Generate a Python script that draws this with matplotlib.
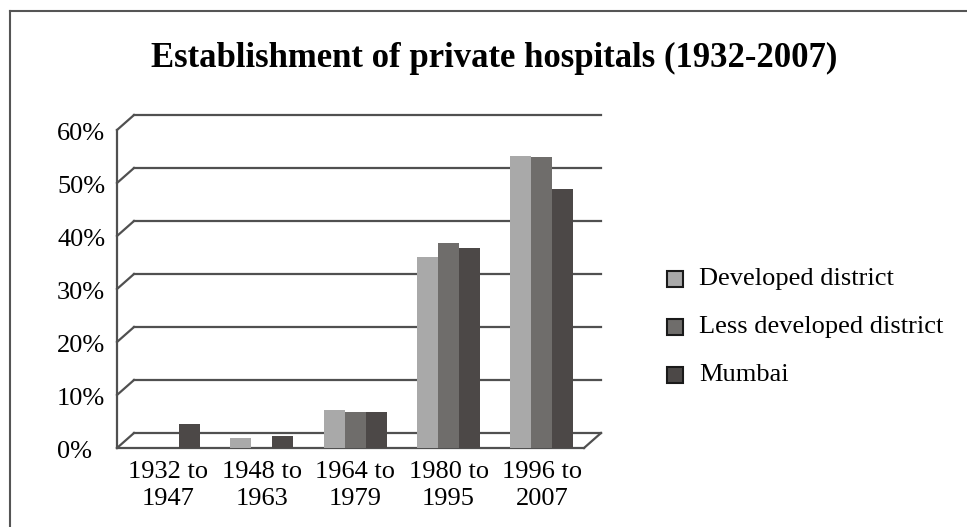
import matplotlib
matplotlib.use("Agg")
import matplotlib.pyplot as plt
import matplotlib.transforms as mtransforms
from matplotlib.lines import Line2D
from matplotlib.patches import Rectangle

# chart data (percent of hospitals established in each period)
periods = ["1932 to\n1947", "1948 to\n1963", "1964 to\n1979", "1980 to\n1995", "1996 to\n2007"]
developed = [0.0, 1.9, 7.2, 36.1, 55.1]
less_developed = [0.0, 0.0, 6.8, 38.7, 54.9]
mumbai = [4.5, 2.3, 6.8, 37.7, 48.9]
series_names = ["Developed district", "Less developed district", "Mumbai"]
y_ticks = [0, 10, 20, 30, 40, 50, 60]
y_tick_labels = ["0%", "10%", "20%", "30%", "40%", "50%", "60%"]

colors = ["#a9a9a9", "#6f6d6b", "#4c4847"]
line_col = "#505050"
W, H = 967, 527

plt.rcParams["font.family"] = ["Liberation Serif", "DejaVu Serif"]

fig = plt.figure(figsize=(W / 100, H / 100), dpi=100)
# front plane of the pseudo-3D plot: x 117..584 px, y 130..448 px
ax = fig.add_axes([117 / W, 1 - 448 / H, (584 - 117) / W, (448 - 130) / H])
x_lo, x_hi = -0.55, 4.45
ax.set_xlim(x_lo, x_hi)
ax.set_ylim(0, 60)
for s in ax.spines.values():
    s.set_visible(False)
ax.tick_params(left=False, bottom=False, labelleft=False)

# back wall offset (depth) in pixels
back = mtransforms.offset_copy(ax.transData, fig=fig, x=17, y=15, units="dots")

for v in y_ticks:
    # back wall gridline
    ax.add_line(Line2D([x_lo, x_hi], [v, v], transform=back, color=line_col,
                       lw=1.6, clip_on=False, zorder=1))
    # left wall diagonal from front axis to back wall
    p0 = ax.transData.transform((x_lo, v))
    p1 = back.transform((x_lo, v))
    ax.add_line(Line2D([p0[0], p1[0]], [p0[1], p1[1]], transform=None,
                       color=line_col, lw=1.6, clip_on=False, zorder=1))

# floor: front edge, right diagonal, front vertical axis
ax.plot([x_lo, x_hi], [0, 0], color=line_col, lw=1.6, clip_on=False, zorder=1)
q0 = ax.transData.transform((x_hi, 0))
q1 = back.transform((x_hi, 0))
ax.add_line(Line2D([q0[0], q1[0]], [q0[1], q1[1]], transform=None,
                   color=line_col, lw=1.6, clip_on=False, zorder=1))
ax.plot([x_lo, x_lo], [0, 60], color=line_col, lw=1.6, clip_on=False, zorder=1)

# bars
bw = 0.225
xs = list(range(len(periods)))
for k, vals in enumerate([developed, less_developed, mumbai]):
    ax.bar([x + (k - 1) * bw for x in xs], vals, width=bw, color=colors[k],
           zorder=3, clip_on=False)

# x labels
ax.set_xticks(xs)
ax.set_xticklabels(periods, fontsize=19, linespacing=1.3)
ax.tick_params(axis="x", pad=6)

# y labels, left aligned like the original
lab_tr = mtransforms.offset_copy(ax.transData, fig=fig, x=0, y=-4, units="dots")
for v, lab in zip(y_ticks, y_tick_labels):
    p = lab_tr.transform((x_lo, v))
    fig.text(57 / W, p[1] / H, lab, fontsize=19, ha="left", va="center")

# title
fig.text(494 / W, 1 - 58 / H, "Establishment of private hospitals (1932-2007)",
         fontsize=25, fontweight="bold", ha="center", va="center")

# legend
rows_y = [279, 327, 375]
for name, c, yy in zip(series_names, colors, rows_y):
    fig.patches.append(Rectangle((667 / W, 1 - (yy + 8) / H), 16 / W, 16 / H,
                                 transform=fig.transFigure, facecolor=c,
                                 edgecolor="#1a1a1a", lw=1.5))
    fig.text(699 / W, 1 - yy / H, name, fontsize=19, ha="left", va="center")

# outer frame (top and left edges visible)
fig.add_artist(Line2D([10 / W, 1], [1 - 11 / H, 1 - 11 / H], color="#555555", lw=1.5))
fig.add_artist(Line2D([10 / W, 10 / W], [0, 1 - 11 / H], color="#555555", lw=1.5))

fig.savefig("out.png", dpi=100)
